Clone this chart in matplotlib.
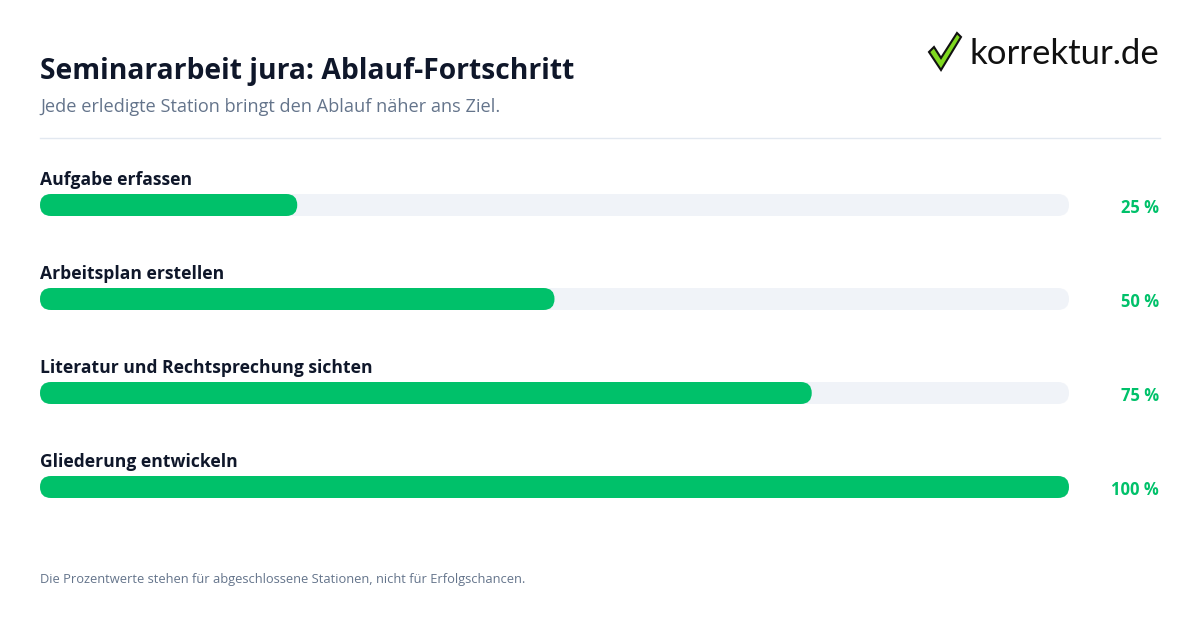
import matplotlib.pyplot as plt
from matplotlib.patches import FancyBboxPatch, Polygon
from matplotlib.lines import Line2D

steps = ['Aufgabe erfassen', 'Arbeitsplan erstellen',
         'Literatur und Rechtsprechung sichten', 'Gliederung entwickeln']
percent = [25, 50, 75, 100]

title = 'Seminararbeit jura: Ablauf-Fortschritt'
subtitle = 'Jede erledigte Station bringt den Ablauf näher ans Ziel.'
footer = 'Die Prozentwerte stehen für abgeschlossene Stationen, nicht für Erfolgschancen.'

GREEN = '#00c16a'
TRACK = '#f0f3f8'
DARK = '#0f172a'
GRAY = '#64748b'

W, H = 1200, 630
plt.rcParams['font.family'] = ['Open Sans', 'DejaVu Sans']
fig = plt.figure(figsize=(12, 6.3), dpi=100)
fig.patch.set_facecolor('white')


def fx(px):
    return px / W


def fy(py):
    return 1 - py / H


# header
fig.text(fx(40), fy(71), title, fontsize=20.3, fontweight='bold', color=DARK, va='center')
fig.text(fx(40), fy(107), subtitle, fontsize=13.1, color=GRAY, va='center')
fig.add_artist(Line2D([fx(40), fx(1160)], [fy(138), fy(138)], color='#e2e8f0', lw=1))

# logo
check = Polygon([[fx(929), fy(52)], [fx(934), fy(47)], [fx(941), fy(58)],
                 [fx(957), fy(33)], [fx(961), fy(37)], [fx(941), fy(70)]],
                closed=True, facecolor='#7fd81f', edgecolor='#111111', lw=1.5,
                transform=fig.transFigure)
fig.add_artist(check)
fig.text(fx(969), fy(54), 'korrektur.de', fontsize=25, color='#111111', va='center',
         family=['Lato', 'DejaVu Sans'])

# bars: axes covering the track area, x in percent
track_left, track_right = 40, 1069
row_top, row_step = 205, 94
n = len(steps)
ax = fig.add_axes([fx(track_left), fy(row_top + row_step * (n - 0.5)),
                   (track_right - track_left) / W, row_step * n / H])
ax.set_xlim(0, 100)
ax.set_ylim(n - 0.5, -0.5)
ax.axis('off')

px_x = (track_right - track_left) / 100
px_y = row_step
bar_h = 22 / px_y
r = 11 / px_x
aspect = px_x / px_y


def rbar(x0, w, y, color):
    p = FancyBboxPatch((x0 + r, y - bar_h / 2 + r * aspect), w - 2 * r, bar_h - 2 * r * aspect,
                       boxstyle=f'round,pad={r}', mutation_aspect=aspect,
                       facecolor=color, edgecolor='none')
    ax.add_patch(p)


for i, (name, v) in enumerate(zip(steps, percent)):
    rbar(0, 100, i, TRACK)
    rbar(0, v, i, GREEN)
    ty = row_top + row_step * i
    fig.text(fx(40), fy(ty - 25), name, fontsize=12.6, fontweight='bold', color=DARK, va='center')
    fig.text(fx(1159), fy(ty + 3), f'{v} %', fontsize=12, fontweight='bold', color=GREEN,
             va='center', ha='right')

fig.text(fx(40), fy(580), footer, fontsize=9.27, color=GRAY, va='center')

fig.savefig('out.png', dpi=100, facecolor='white')
